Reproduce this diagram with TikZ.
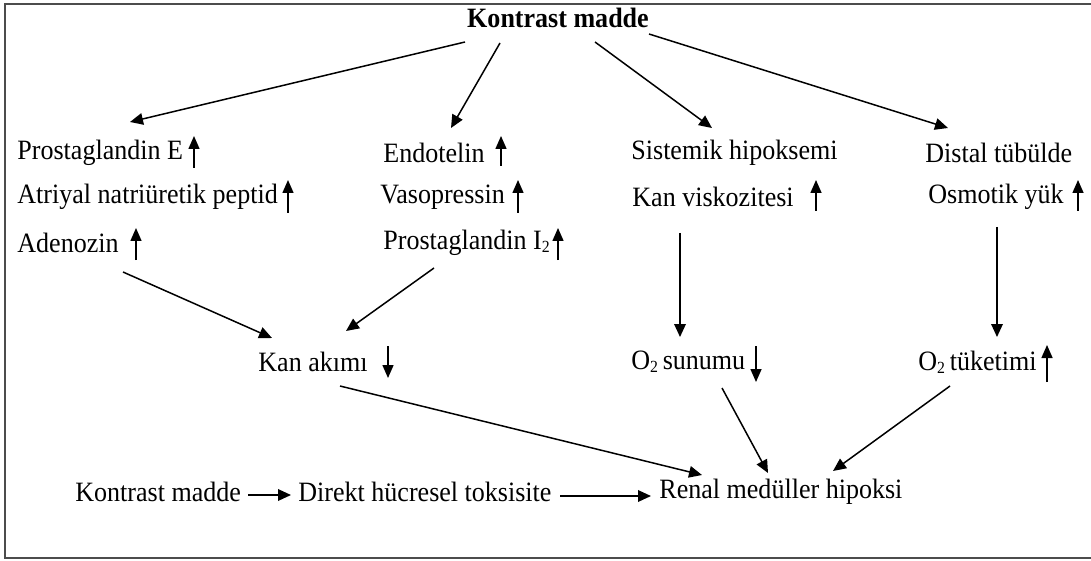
\documentclass[tikz,border=0pt]{standalone}
\usepackage{fontspec}
\setmainfont[FakeStretch=0.93]{Liberation Serif}
\usetikzlibrary{arrows.meta}
\newcommand{\subtwo}{\raisebox{-0.25ex}{\fontsize{8.5}{8.5}\selectfont 2}}
\begin{document}
\begin{tikzpicture}[x=0.5pt,y=-0.5pt,
  txt/.style={anchor=west,inner sep=0pt,font=\fontsize{14}{16}\selectfont},
  ttl/.style={inner sep=0pt,font=\fontsize{14}{16}\selectfont\bfseries},
  arr/.style={-{Triangle[length=6.5pt,width=5.8pt]},line width=0.75pt},
  ud/.style={-{Triangle[length=6.5pt,width=5.5pt]},line width=0.75pt}]
\useasboundingbox (0,0) rectangle (1091,561);
\draw[line width=1.1pt, draw=black!70] (1100,4) -- (5,4) -- (5,558) -- (1100,558);

% title
\node[ttl] (title) at (558,18) {Kontrast madde};

% column 1
\node[txt] (pge) at (17,153) {Prostaglandin E};
\node[txt] (anp) at (17,197) {Atriyal natriüretik peptid};
\node[txt] (ade) at (17,243) {Adenozin};
% column 2
\node[txt] (end) at (383,153) {Endotelin};
\node[txt] (vas) at (380,197) {Vasopressin};
\node[txt] (pgi) at (383,243) {Prostaglandin I\subtwo};
% column 3
\node[txt] (sis) at (631,153) {Sistemik hipoksemi};
\node[txt] (kvi) at (632,197) {Kan viskozitesi};
% column 4
\node[txt] (dis) at (925,153) {Distal tübülde};
\node[txt] (osm) at (928,197) {Osmotik yük};

% middle row
\node[txt] (kan) at (258,362) {Kan akımı};
\node[txt] (osu) at (631,362) {O\subtwo\,sunumu};
\node[txt] (otu) at (918,362) {O\subtwo\,tüketimi};

% bottom row
\node[txt] (km) at (75,492) {Kontrast madde};
\node[txt] (dht) at (298,492) {Direkt hücresel toksisite};
\node[txt] (rmh) at (659,492) {Renal medüller hipoksi};

% small up/down marks
\coordinate (u1a) at (194,168); \coordinate (u1b) at (194,136);
\coordinate (u2a) at (288,213); \coordinate (u2b) at (288,180);
\coordinate (u3a) at (136,260); \coordinate (u3b) at (136,228);
\coordinate (u4a) at (501,166); \coordinate (u4b) at (501,136);
\coordinate (u5a) at (518,213); \coordinate (u5b) at (518,180);
\coordinate (u6a) at (558,260); \coordinate (u6b) at (558,228);
\coordinate (u7a) at (816,211); \coordinate (u7b) at (816,180);
\coordinate (u8a) at (1078,211); \coordinate (u8b) at (1078,180);
\coordinate (d1a) at (388,346); \coordinate (d1b) at (388,378);
\coordinate (d2a) at (756,346); \coordinate (d2b) at (756,382);
\coordinate (u9a) at (1047,382); \coordinate (u9b) at (1047,345);
\foreach \p in {u1,u2,u3,u4,u5,u6,u7,u8,u9,d1,d2}
  \draw[ud] (\p a) -- (\p b);

% connectors from title
\coordinate (t1) at (465,42); \coordinate (e1) at (130,122);
\coordinate (t2) at (500,43); \coordinate (e2) at (451,128);
\coordinate (t3) at (595,42); \coordinate (e3) at (712,128);
\coordinate (t4) at (649,34); \coordinate (e4) at (948,128);
\draw[arr] (t1) -- (e1);
\draw[arr] (t2) -- (e2);
\draw[arr] (t3) -- (e3);
\draw[arr] (t4) -- (e4);

% to middle row
\coordinate (a1) at (123,272); \coordinate (b1) at (272,338);
\coordinate (a2) at (434,268); \coordinate (b2) at (346,331);
\coordinate (a3) at (680,233); \coordinate (b3) at (680,337);
\coordinate (a4) at (997,227); \coordinate (b4) at (997,337);
\draw[arr] (a1) -- (b1);
\draw[arr] (a2) -- (b2);
\draw[arr] (a3) -- (b3);
\draw[arr] (a4) -- (b4);

% to renal
\coordinate (c1) at (340,386); \coordinate (r1) at (702,475);
\coordinate (c2) at (722,388); \coordinate (r2) at (768,473);
\coordinate (c3) at (950,386); \coordinate (r3) at (833,471);
\draw[arr] (c1) -- (r1);
\draw[arr] (c2) -- (r2);
\draw[arr] (c3) -- (r3);

% bottom row arrows
\coordinate (k1) at (248,495); \coordinate (k2) at (291,495);
\draw[arr] (k1) -- (k2);
\coordinate (h1) at (560,496); \coordinate (h2) at (651,496);
\draw[arr] (h1) -- (h2);
\end{tikzpicture}
\end{document}
